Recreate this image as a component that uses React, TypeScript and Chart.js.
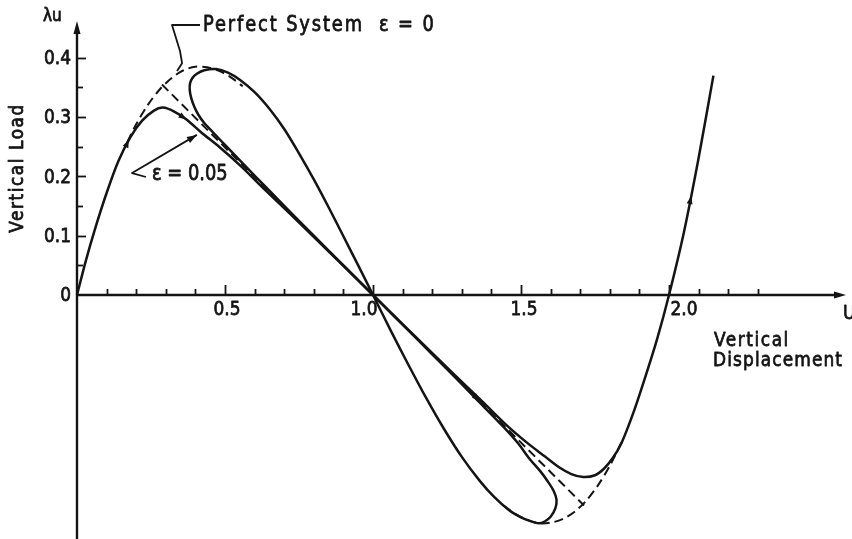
import { useEffect, useRef } from "react";
import { Chart, registerables } from "chart.js";

Chart.register(...registerables);

// Primary equilibrium path of the imperfect system (ε = 0.05)
const primaryU = [
  0, 0.03, 0.06, 0.1, 0.14, 0.18, 0.22, 0.26, 0.29, 0.33,
  0.37, 0.42, 0.48, 0.55, 0.63, 0.72, 0.81, 0.9, 1.0, 1.1,
  1.19, 1.28, 1.37, 1.45, 1.52, 1.58, 1.63, 1.67, 1.71, 1.75,
  1.78, 1.81, 1.84, 1.88, 1.92, 1.96, 2.0, 2.05, 2.1, 2.15,
];
const primaryLoad = [
  0, 0.058, 0.11, 0.172, 0.226, 0.266, 0.294, 0.311, 0.316, 0.309,
  0.296, 0.274, 0.25, 0.219, 0.18, 0.137, 0.093, 0.049, 0, -0.049,
  -0.093, -0.137, -0.18, -0.219, -0.249, -0.272, -0.291, -0.302, -0.307, -0.304,
  -0.293, -0.275, -0.249, -0.198, -0.138, -0.074, 0, 0.105, 0.231, 0.37,
];

// Complementary (figure-eight) path of the imperfect system
const loopU = [
  1.0, 0.95, 0.9, 0.85, 0.8, 0.75, 0.7, 0.65, 0.6, 0.55,
  0.51, 0.47, 0.43, 0.405, 0.39, 0.382, 0.381, 0.386, 0.396, 0.41,
  0.43, 0.46, 0.5, 0.56, 0.65, 0.75, 0.85, 0.93, 1.0, 1.07,
  1.15, 1.25, 1.35, 1.44, 1.49, 1.53, 1.565, 1.59, 1.61, 1.62,
  1.616, 1.6, 1.58, 1.56, 1.53, 1.5, 1.46, 1.41, 1.36, 1.3,
  1.24, 1.18, 1.12, 1.06, 1.0,
];
const loopLoad = [
  0, 0.05, 0.099, 0.148, 0.195, 0.239, 0.28, 0.314, 0.342, 0.363,
  0.375, 0.381, 0.379, 0.373, 0.366, 0.357, 0.345, 0.332, 0.318, 0.304,
  0.29, 0.274, 0.253, 0.222, 0.176, 0.125, 0.075, 0.035, 0, -0.035,
  -0.075, -0.125, -0.176, -0.222, -0.25, -0.277, -0.297, -0.314, -0.33, -0.345,
  -0.36, -0.374, -0.382, -0.385, -0.381, -0.375, -0.363, -0.341, -0.313, -0.273,
  -0.226, -0.174, -0.118, -0.06, 0,
];

// Perfect system (ε = 0), dashed where it leaves the solid paths
const perfectTopU = [0.17, 0.2, 0.24, 0.28, 0.32, 0.36, 0.4, 0.44, 0.48, 0.52, 0.56];
const perfectTopLoad = [0.258, 0.288, 0.321, 0.347, 0.366, 0.379, 0.385, 0.384, 0.378, 0.367, 0.352];
const perfectBottomU = [1.44, 1.48, 1.52, 1.56, 1.6, 1.64, 1.68, 1.72, 1.76, 1.8, 1.84];
const perfectBottomLoad = [-0.355, -0.369, -0.379, -0.385, -0.384, -0.378, -0.366, -0.347, -0.321, -0.288, -0.248];

// Straight bifurcated branch of the perfect system
const branchU = [0.287, 1.713];
const branchLoad = [0.355, -0.355];

// Direction arrows along the paths (tail -> head)
const arrowTailU = [0.16, 0.34, 1.33, 2.06];
const arrowTailLoad = [0.245, 0.306, -0.164, 0.131];
const arrowHeadU = [0.175, 0.37, 1.36, 2.075];
const arrowHeadLoad = [0.262, 0.296, -0.179, 0.167];

// Axis ticks
const xMinorTicks = [
  0.1, 0.2, 0.3, 0.4, 0.6, 0.7, 0.8, 0.9, 1.1, 1.2, 1.3, 1.4,
  1.6, 1.7, 1.8, 1.9, 2.1, 2.2, 2.3,
];
const xMajorTicks = [0.5, 1.0, 1.5, 2.0];
const xTickLabels = ["0.5", "1.0", "1.5", "2.0"];
const yMinorTicks = [0.05, 0.15, 0.25, 0.35];
const yMajorTicks = [0, 0.1, 0.2, 0.3, 0.4];
const yTickLabels = ["0", "0.1", "0.2", "0.3", "0.4"];

// Layout of the annotations (leader lines in data units, label nudges in px)
const xLabelNudge = [2, -9, 3, 15];
const perfectLeaderU = [0.4155, 0.321, 0.348, 0.355, 0.338];
const perfectLeaderLoad = [0.4553, 0.4553, 0.4115, 0.391, 0.3777];
const epsLeaderU = [0.233, 0.186, 0.405];
const epsLeaderLoad = [0.199, 0.2057, 0.27];
const X_AXIS_END = 2.598;
const Y_AXIS_TOP = 0.462;
const Y_AXIS_BOTTOM = -0.43;

const INK = "#141414";
const FONT = '"DejaVu Sans", "Liberation Sans", sans-serif';

const zip = (u: number[], l: number[]) => u.map((x, i) => ({ x, y: l[i] }));

function label(
  ctx: CanvasRenderingContext2D,
  text: string,
  x: number,
  y: number,
  size: number,
  align: CanvasTextAlign = "left",
  sx = 0.85,
  spacing = 0,
  rotate = 0
) {
  ctx.save();
  ctx.translate(x, y);
  if (rotate) ctx.rotate(rotate);
  ctx.scale(sx, 1);
  ctx.font = `${size}px ${FONT}`;
  (ctx as any).letterSpacing = `${spacing}px`;
  ctx.textAlign = align;
  ctx.textBaseline = "middle";
  ctx.fillStyle = INK;
  ctx.strokeStyle = INK;
  ctx.lineWidth = 0.8;
  ctx.lineJoin = "round";
  ctx.fillText(text, 0, 0);
  ctx.strokeText(text, 0, 0);
  ctx.restore();
}

function arrowHead(ctx: CanvasRenderingContext2D, x0: number, y0: number, x1: number, y1: number, len: number, half: number) {
  const a = Math.atan2(y1 - y0, x1 - x0);
  ctx.save();
  ctx.translate(x1, y1);
  ctx.rotate(a);
  ctx.beginPath();
  ctx.moveTo(0, 0);
  ctx.lineTo(-len, -half);
  ctx.lineTo(-len, half);
  ctx.closePath();
  ctx.fillStyle = INK;
  ctx.fill();
  ctx.restore();
}

const figurePlugin = {
  id: "figureAxes",
  beforeDraw(chart: any) {
    const ctx: CanvasRenderingContext2D = chart.ctx;
    ctx.save();
    ctx.fillStyle = "#ffffff";
    ctx.fillRect(0, 0, chart.width, chart.height);
    ctx.restore();
  },
  beforeDatasetsDraw(chart: any) {
    const ctx: CanvasRenderingContext2D = chart.ctx;
    const xs = chart.scales.x;
    const ys = chart.scales.y;
    const x0 = xs.getPixelForValue(0);
    const y0 = ys.getPixelForValue(0);
    ctx.save();
    ctx.strokeStyle = INK;
    ctx.lineCap = "butt";

    // horizontal axis with arrow
    const xEnd = xs.getPixelForValue(X_AXIS_END);
    ctx.lineWidth = 2.6;
    ctx.beginPath();
    ctx.moveTo(x0 - 1, y0);
    ctx.lineTo(xEnd - 6, y0);
    ctx.stroke();
    arrowHead(ctx, x0, y0, xEnd, y0, 12, 3.5);

    // vertical axis with arrow
    const yTop = ys.getPixelForValue(Y_AXIS_TOP);
    const yBot = ys.getPixelForValue(Y_AXIS_BOTTOM);
    ctx.lineWidth = 2.4;
    ctx.beginPath();
    ctx.moveTo(x0, yBot);
    ctx.lineTo(x0, yTop + 6);
    ctx.stroke();
    arrowHead(ctx, x0, y0, x0, yTop, 13, 3.5);

    // ticks on the horizontal axis (pointing up)
    ctx.lineWidth = 1.8;
    xMinorTicks.forEach((v) => {
      const px = Math.round(xs.getPixelForValue(v)) + 0.5;
      ctx.beginPath();
      ctx.moveTo(px, y0);
      ctx.lineTo(px, y0 - 6);
      ctx.stroke();
    });
    xMajorTicks.forEach((v) => {
      const px = Math.round(xs.getPixelForValue(v)) + 0.5;
      ctx.beginPath();
      ctx.moveTo(px, y0);
      ctx.lineTo(px, y0 - 10);
      ctx.stroke();
    });

    // ticks on the vertical axis (pointing right)
    yMinorTicks.forEach((v) => {
      const py = Math.round(ys.getPixelForValue(v)) + 0.5;
      ctx.beginPath();
      ctx.moveTo(x0, py);
      ctx.lineTo(x0 + 6, py);
      ctx.stroke();
    });
    yMajorTicks.forEach((v) => {
      if (v === 0) return;
      const py = Math.round(ys.getPixelForValue(v)) + 0.5;
      ctx.beginPath();
      ctx.moveTo(x0, py);
      ctx.lineTo(x0 + 9, py);
      ctx.stroke();
    });
    ctx.restore();
  },
  afterDatasetsDraw(chart: any) {
    const ctx: CanvasRenderingContext2D = chart.ctx;
    const xs = chart.scales.x;
    const ys = chart.scales.y;
    const px = (u: number) => xs.getPixelForValue(u);
    const py = (l: number) => ys.getPixelForValue(l);
    const x0 = px(0);
    const y0 = py(0);

    ctx.save();
    // direction arrows on the paths
    arrowTailU.forEach((u, i) => {
      arrowHead(ctx, px(u), py(arrowTailLoad[i]), px(arrowHeadU[i]), py(arrowHeadLoad[i]), 8, 3);
    });

    // leader lines
    ctx.strokeStyle = INK;
    ctx.lineWidth = 1.8;
    ctx.lineJoin = "round";
    ctx.beginPath();
    perfectLeaderU.forEach((u, i) => {
      const X = px(u);
      const Y = py(perfectLeaderLoad[i]);
      if (i === 0) ctx.moveTo(X, Y);
      else ctx.lineTo(X, Y);
    });
    ctx.stroke();

    ctx.beginPath();
    epsLeaderU.forEach((u, i) => {
      const X = px(u);
      const Y = py(epsLeaderLoad[i]);
      if (i === 0) ctx.moveTo(X, Y);
      else ctx.lineTo(X, Y);
    });
    ctx.stroke();
    const n = epsLeaderU.length;
    arrowHead(
      ctx,
      px(epsLeaderU[n - 2]), py(epsLeaderLoad[n - 2]),
      px(epsLeaderU[n - 1]), py(epsLeaderLoad[n - 1]),
      10, 3.5
    );

    // tick labels
    xMajorTicks.forEach((v, i) => {
      label(ctx, xTickLabels[i], px(v) + xLabelNudge[i], y0 + 15, 20, "center");
    });
    yMajorTicks.forEach((v, i) => {
      label(ctx, yTickLabels[i], x0 - 6, py(v) + 1, 20, "right");
    });

    // titles and notes
    label(ctx, "λu", 43, 17, 17, "left", 0.9, 0);
    label(ctx, "Vertical Load", 18, 168, 20, "center", 0.85, 1.8, -Math.PI / 2);
    label(ctx, "Vertical", 714, 341, 20, "left", 0.85, 1.8);
    label(ctx, "Displacement", 713, 361, 20, "left", 0.85, 1.3);
    label(ctx, "U", 843, 314, 20, "left");
    label(ctx, "Perfect System  ε = 0", 203, 26, 21, "left", 0.85, 2.2);
    label(ctx, "ε = 0.05", 152, 175, 21, "left", 0.85, 0);
    ctx.restore();
  },
};

export default function App() {
  const canvasRef = useRef<HTMLCanvasElement | null>(null);

  useEffect(() => {
    if (!canvasRef.current) return;
    const solid = {
      showLine: true,
      borderColor: INK,
      borderWidth: 2.5,
      pointRadius: 0,
      tension: 0.3,
      fill: false,
    };
    const dashed = {
      showLine: true,
      borderColor: INK,
      borderWidth: 2,
      borderDash: [9, 5],
      pointRadius: 0,
      tension: 0.3,
      fill: false,
    };
    const chart = new Chart(canvasRef.current, {
      type: "scatter",
      data: {
        datasets: [
          { label: "Perfect system, ε = 0", data: zip(perfectTopU, perfectTopLoad), ...dashed },
          { label: "Perfect system, ε = 0 (lower)", data: zip(perfectBottomU, perfectBottomLoad), ...dashed },
          { label: "Bifurcated branch", data: zip(branchU, branchLoad), ...dashed, tension: 0 },
          { label: "ε = 0.05 primary path", data: zip(primaryU, primaryLoad), ...solid },
          { label: "ε = 0.05 complementary path", data: zip(loopU, loopLoad), ...solid },
        ],
      },
      options: {
        animation: false,
        responsive: false,
        devicePixelRatio: 1,
        events: [],
        layout: { padding: 0 },
        plugins: {
          legend: { display: false },
          tooltip: { enabled: false },
          title: { display: false },
        },
        scales: {
          x: { type: "linear", display: false, min: -0.2601, max: 2.6182 },
          y: { type: "linear", display: false, min: -0.4115, max: 0.4975 },
        },
      },
      plugins: [figurePlugin],
    });
    return () => chart.destroy();
  }, []);

  return (
    <div style={{ position: "fixed", left: 0, top: 0, width: 852, height: 539, background: "#fff" }}>
      <canvas ref={canvasRef} width={852} height={539} style={{ display: "block", width: 852, height: 539 }} />
    </div>
  );
}
